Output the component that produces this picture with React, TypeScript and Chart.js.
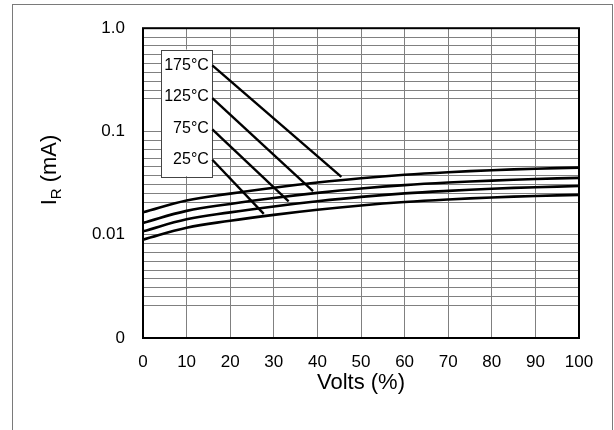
import React, { useEffect, useRef } from 'react';
import { Chart, registerables } from 'chart.js';

Chart.register(...registerables);

// ---- data ----
const voltsPct = [0, 10, 20, 30, 40, 50, 60, 70, 80, 90, 100];
const i175C = [0.01647, 0.02145, 0.02502, 0.02855, 0.032, 0.03527, 0.03807, 0.04031, 0.04213, 0.04355, 0.04462];
const i125C = [0.01302, 0.01702, 0.01986, 0.02266, 0.02541, 0.02799, 0.03022, 0.032, 0.03345, 0.03464, 0.03557];
const i75C = [0.01078, 0.01412, 0.01647, 0.0188, 0.02108, 0.02327, 0.02513, 0.02661, 0.02787, 0.02886, 0.02963];
const i25C = [0.00896, 0.01169, 0.01364, 0.01556, 0.01744, 0.01921, 0.02075, 0.02197, 0.02296, 0.02373, 0.0243];

const seriesLabels = ['175°C', '125°C', '75°C', '25°C'];

// y-axis decades and their labels
const yMajorValues = [1, 0.1, 0.01, 0.001];
const yMajorLabels = ['1.0', '0.1', '0.01', '0'];
const yMinorStepLog = 0.0857;
const yMinorPerDecade = 8;

// x-axis
const xMin = 0;
const xMax = 100;
const xStep = 10;

// callout labels (data coordinates)
const labelTextX = 15.1;
const labelTextY = [0.43, 0.217, 0.107, 0.054];
const leaderStartX = 15.9;
const leaderStartY = [0.436, 0.21, 0.1045, 0.0532];
const leaderEndX = [45.5, 39.0, 33.4, 27.7];
const leaderEndY = [0.0364, 0.0265, 0.021, 0.0159];
const calloutBoxX = [4.2, 15.9];
const calloutBoxY = [0.621, 0.0369];

const xTitle = 'Volts (%)';
const yTitleMain = 'I';
const yTitleSub = 'R';
const yTitleRest = '(mA)';

const FONT = '"Liberation Sans", Arial, sans-serif';

export default function App() {
  const canvasRef = useRef<HTMLCanvasElement | null>(null);

  useEffect(() => {
    const canvas = canvasRef.current;
    if (!canvas) return;

    const curves = [i175C, i125C, i75C, i25C];
    const curveDatasets = curves.map((vals, i) => ({
      label: seriesLabels[i],
      data: voltsPct.map((x, j) => ({ x, y: vals[j] })),
      borderColor: '#000',
      borderWidth: 2.6,
      pointRadius: 0,
      fill: false,
      tension: 0.4,
    }));
    const leaderDatasets = seriesLabels.map((lab, i) => ({
      label: lab + ' leader',
      data: [
        { x: leaderStartX, y: leaderStartY[i] },
        { x: leaderEndX[i], y: leaderEndY[i] },
      ],
      borderColor: '#000',
      borderWidth: 2.4,
      pointRadius: 0,
      fill: false,
      tension: 0,
    }));

    const decorPlugin = {
      id: 'decor',
      beforeDatasetsDraw(chart: any) {
        const { ctx, scales } = chart;
        const xs = scales.x, ys = scales.y;
        const x0 = xs.getPixelForValue(calloutBoxX[0]);
        const x1 = xs.getPixelForValue(calloutBoxX[1]);
        const y0 = ys.getPixelForValue(calloutBoxY[0]);
        const y1 = ys.getPixelForValue(calloutBoxY[1]);
        ctx.save();
        ctx.fillStyle = '#fff';
        ctx.fillRect(x0, y0, x1 - x0, y1 - y0);
        ctx.strokeStyle = '#444';
        ctx.lineWidth = 1;
        ctx.strokeRect(Math.round(x0) + 0.5, Math.round(y0) + 0.5, Math.round(x1 - x0), Math.round(y1 - y0));
        ctx.restore();
      },
      afterDatasetsDraw(chart: any) {
        const { ctx, scales, chartArea } = chart;
        const xs = scales.x, ys = scales.y;
        ctx.save();
        ctx.fillStyle = '#000';
        ctx.font = `16px ${FONT}`;
        ctx.textAlign = 'right';
        ctx.textBaseline = 'middle';
        seriesLabels.forEach((lab, i) => {
          ctx.fillText(lab, xs.getPixelForValue(labelTextX), ys.getPixelForValue(labelTextY[i]));
        });
        ctx.strokeStyle = '#000';
        ctx.lineWidth = 2;
        ctx.strokeRect(chartArea.left, chartArea.top, chartArea.right - chartArea.left, chartArea.bottom - chartArea.top);
        ctx.restore();
      },
      afterDraw(chart: any) {
        const { ctx, chartArea } = chart;
        ctx.save();
        ctx.strokeStyle = '#7a7a7a';
        ctx.lineWidth = 1;
        ctx.strokeRect(12.5, 4.5, 600, 500);
        ctx.fillStyle = '#000';
        ctx.font = `22px ${FONT}`;
        ctx.textAlign = 'center';
        ctx.textBaseline = 'middle';
        ctx.fillText(xTitle, (chartArea.left + chartArea.right) / 2, 383);
        ctx.translate(56, 170);
        ctx.rotate(-Math.PI / 2);
        ctx.textBaseline = 'alphabetic';
        ctx.textAlign = 'left';
        const bigFont = `22px ${FONT}`;
        const smallFont = `15px ${FONT}`;
        ctx.font = bigFont;
        const wMain = ctx.measureText(yTitleMain).width;
        const wRest = ctx.measureText(' ' + yTitleRest).width;
        ctx.font = smallFont;
        const wSub = ctx.measureText(yTitleSub).width;
        const total = wMain + wSub + wRest;
        let cx = -total / 2;
        ctx.font = bigFont;
        ctx.fillText(yTitleMain, cx, 0);
        cx += wMain;
        ctx.font = smallFont;
        ctx.fillText(yTitleSub, cx, 5);
        cx += wSub;
        ctx.font = bigFont;
        ctx.fillText(' ' + yTitleRest, cx, 0);
        ctx.restore();
      },
    };

    const chart = new Chart(canvas, {
      type: 'line',
      data: { datasets: [...curveDatasets, ...leaderDatasets] as any },
      options: {
        animation: false,
        responsive: false,
        devicePixelRatio: 1,
        layout: { padding: { left: 0, top: 23, right: 35, bottom: 0 } },
        plugins: {
          legend: { display: false },
          tooltip: { enabled: false },
        },
        scales: {
          x: {
            type: 'linear',
            min: xMin,
            max: xMax,
            border: { display: false },
            grid: { color: '#808080', lineWidth: 1, drawTicks: false },
            ticks: {
              stepSize: xStep,
              color: '#000',
              font: { size: 17, family: FONT },
              padding: 14,
              maxRotation: 0,
              autoSkip: false,
            },
            afterFit(scale: any) {
              scale.height = 92;
            },
          },
          y: {
            type: 'logarithmic',
            min: yMajorValues[yMajorValues.length - 1],
            max: yMajorValues[0],
            border: { display: false },
            grid: { color: '#808080', lineWidth: 1, drawTicks: false },
            ticks: {
              color: '#000',
              font: { size: 17, family: FONT },
              padding: 18,
              autoSkip: false,
              callback(value: any) {
                const v = Number(value);
                for (let i = 0; i < yMajorValues.length; i++) {
                  if (Math.abs(Math.log10(v) - Math.log10(yMajorValues[i])) < 1e-6) return yMajorLabels[i];
                }
                return '';
              },
            },
            afterBuildTicks(scale: any) {
              const ticks: any[] = [];
              yMajorValues.forEach((mv, i) => {
                ticks.push({ value: mv, major: true });
                if (i < yMajorValues.length - 1) {
                  for (let k = 1; k <= yMinorPerDecade; k++) {
                    ticks.push({ value: mv * Math.pow(10, -k * yMinorStepLog), major: false });
                  }
                }
              });
              scale.ticks = ticks;
            },
            afterFit(scale: any) {
              scale.width = 143;
            },
          },
        },
      },
      plugins: [decorPlugin],
    });

    return () => chart.destroy();
  }, []);

  return (
    <div style={{ position: 'fixed', left: 0, top: 0, width: 614, height: 430, background: '#fff' }}>
      <canvas ref={canvasRef} width={614} height={430} style={{ display: 'block' }} />
    </div>
  );
}
